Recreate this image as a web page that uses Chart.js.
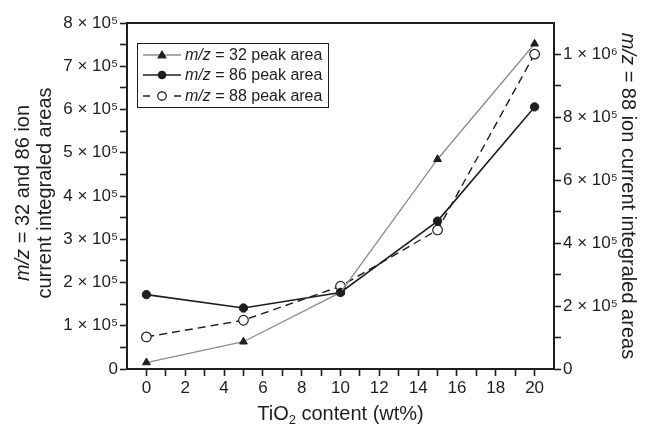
<!DOCTYPE html>
<html><head><meta charset="utf-8">
<script src="https://cdn.jsdelivr.net/npm/chart.js@4.4.0/dist/chart.umd.min.js"></script>
<style>html,body{margin:0;padding:0;background:#fff;}#wrap{width:645px;height:425px;}</style>
</head><body><div id="wrap"><canvas id="c" width="645" height="425"></canvas></div>
<script>
// ---- data ----
const tio2Content = [0, 5, 10, 15, 20];
const mz32PeakArea = [15000, 63000, 177000, 485000, 752000];
const mz86PeakArea = [172000, 141000, 177000, 342000, 606000];
const mz88PeakArea = [102000, 155000, 263000, 442000, 1001000];
const seriesNames = ['m/z = 32 peak area', 'm/z = 86 peak area', 'm/z = 88 peak area'];
const xTickLabels = ['0', '2', '4', '6', '8', '10', '12', '14', '16', '18', '20'];
const leftTickLabels = ['0', '1 × 10⁵', '2 × 10⁵', '3 × 10⁵', '4 × 10⁵', '5 × 10⁵', '6 × 10⁵', '7 × 10⁵', '8 × 10⁵'];
const rightTickLabels = ['0', '2 × 10⁵', '4 × 10⁵', '6 × 10⁵', '8 × 10⁵', '1 × 10⁶'];
const leftTitle = ['m/z', ' = 32 and 86 ion', 'current integraled areas'];
const rightTitle = ['m/z', ' = 88 ion current integraled areas'];
const xTitle = ['TiO', '2', ' content (wt%)'];

const FONT = '"Liberation Sans", Arial, sans-serif';
const INK = '#1e1e1e';

function pts(ys) { return tio2Content.map((x, i) => ({ x: x, y: ys[i] })); }

const decor = {
  id: 'decor',
  afterDraw(chart) {
    const ctx = chart.ctx, a = chart.chartArea;
    ctx.save();
    // top frame line
    ctx.strokeStyle = INK; ctx.lineWidth = 2;
    ctx.beginPath(); ctx.moveTo(a.left - 1, a.top); ctx.lineTo(a.right + 1, a.top); ctx.stroke();
    ctx.fillStyle = INK;
    function seg(parts, x, y, size) {
      // parts: [[text, style]] drawn left to right, centered at x
      let w = 0;
      parts.forEach(p => { ctx.font = p[1] + ' ' + size + 'px ' + FONT; w += ctx.measureText(p[0]).width; });
      let cx = x - w / 2;
      parts.forEach(p => { ctx.font = p[1] + ' ' + size + 'px ' + FONT; ctx.fillText(p[0], cx, y); cx += ctx.measureText(p[0]).width; });
    }
    ctx.textBaseline = 'middle'; ctx.textAlign = 'left';
    const cy = (a.top + a.bottom) / 2 - 3;
    // left title
    ctx.save(); ctx.translate(23, cy); ctx.rotate(-Math.PI / 2);
    seg([[leftTitle[0], 'italic'], [leftTitle[1], 'normal']], 0, 0, 20);
    ctx.restore();
    ctx.save(); ctx.translate(45, cy); ctx.rotate(-Math.PI / 2);
    seg([[leftTitle[2], 'normal']], 0, 0, 20);
    ctx.restore();
    // right title
    ctx.save(); ctx.translate(628, cy + 3); ctx.rotate(Math.PI / 2);
    seg([[rightTitle[0], 'italic'], [rightTitle[1], 'normal']], 0, 0, 20);
    ctx.restore();
    // x title with subscript
    ctx.textBaseline = 'alphabetic';
    ctx.font = '20px ' + FONT; const w1 = ctx.measureText(xTitle[0]).width, w3 = ctx.measureText(xTitle[2]).width;
    ctx.font = '13px ' + FONT; const w2 = ctx.measureText(xTitle[1]).width;
    let xx = (a.left + a.right) / 2 - (w1 + w2 + w3) / 2; const by = 420;
    ctx.font = '20px ' + FONT; ctx.fillText(xTitle[0], xx, by); xx += w1;
    ctx.font = '13px ' + FONT; ctx.fillText(xTitle[1], xx, by + 4); xx += w2;
    ctx.font = '20px ' + FONT; ctx.fillText(xTitle[2], xx, by);
    // legend
    const L = { x: 137, y: 43, w: 191, h: 64 };
    ctx.lineWidth = 1; ctx.strokeStyle = INK;
    ctx.strokeRect(L.x + 0.5, L.y + 0.5, L.w, L.h);
    const rows = [55, 75, 96];
    const ds = chart.data.datasets;
    rows.forEach((ry, i) => {
      const d = ds[i];
      ctx.save();
      ctx.strokeStyle = d.borderColor; ctx.lineWidth = d.borderWidth;
      ctx.setLineDash(d.borderDash || []);
      ctx.beginPath();
      if (i === 2) { ctx.setLineDash([]); ctx.moveTo(143, ry); ctx.lineTo(150, ry); ctx.moveTo(174, ry); ctx.lineTo(181, ry); }
      else { ctx.moveTo(143, ry); ctx.lineTo(181, ry); }
      ctx.stroke(); ctx.restore();
      Chart.helpers.drawPoint(ctx, {
        pointStyle: d.pointStyle, radius: i === 0 ? 3.5 : (i === 1 ? 3.5 : 4), borderWidth: 1.2
      }, 162, ry);
      ctx.save();
      ctx.fillStyle = d.pointBackgroundColor; ctx.strokeStyle = INK; ctx.lineWidth = 1.2;
      ctx.beginPath();
      if (d.pointStyle === 'triangle') {
        const r = 3.8; ctx.moveTo(162, ry - r); ctx.lineTo(162 + r, ry + r * 0.75); ctx.lineTo(162 - r, ry + r * 0.75); ctx.closePath();
      } else { ctx.arc(162, ry, i === 1 ? 3.7 : 4.2, 0, Math.PI * 2); }
      ctx.fill(); ctx.stroke(); ctx.restore();
      ctx.fillStyle = INK; ctx.textBaseline = 'middle';
      const txt = seriesNames[i];
      ctx.font = 'italic 16px ' + FONT; ctx.fillText('m/z', 185, ry + 1);
      const mw = ctx.measureText('m/z').width;
      ctx.font = '16px ' + FONT; ctx.fillText(txt.slice(3), 185 + mw, ry + 1);
    });
    ctx.restore();
  }
};

new Chart(document.getElementById('c'), {
  type: 'line',
  data: {
    datasets: [
      { label: seriesNames[0], data: pts(mz32PeakArea), yAxisID: 'y', borderColor: '#8c8c8c', borderWidth: 1.3,
        pointStyle: 'triangle', pointRadius: 4.5, pointBackgroundColor: INK, pointBorderColor: INK, pointBorderWidth: 1, tension: 0 },
      { label: seriesNames[1], data: pts(mz86PeakArea), yAxisID: 'y', borderColor: INK, borderWidth: 1.6,
        pointStyle: 'circle', pointRadius: 4.2, pointBackgroundColor: INK, pointBorderColor: INK, pointBorderWidth: 1, tension: 0 },
      { label: seriesNames[2], data: pts(mz88PeakArea), yAxisID: 'y2', borderColor: INK, borderWidth: 1.4, borderDash: [8, 5],
        pointStyle: 'circle', pointRadius: 4.8, pointBackgroundColor: '#ffffff', pointBorderColor: INK, pointBorderWidth: 1.2, tension: 0 }
    ]
  },
  options: {
    responsive: false, animation: false, devicePixelRatio: 1,
    layout: { padding: { top: 23, left: 0, right: 0, bottom: 0 } },
    plugins: { legend: { display: false }, tooltip: { enabled: false } },
    scales: {
      x: {
        type: 'linear', position: 'bottom', min: -1, max: 21,
        afterFit: s => { s.height = 56; },
        ticks: { stepSize: 1, autoSkip: false, maxRotation: 0, padding: 2, color: INK,
          font: { size: 17, family: FONT },
          callback: v => (v >= 0 && v <= 20 && v % 2 === 0) ? xTickLabels[v / 2] : '' },
        grid: { drawOnChartArea: false, drawTicks: true, tickLength: 7, tickWidth: 1.6,
          tickColor: c => (c.tick && (c.tick.value < 0 || c.tick.value > 20)) ? 'rgba(0,0,0,0)' : INK },
        border: { display: true, color: INK, width: 2 }
      },
      y: {
        type: 'linear', position: 'left', min: 0, max: 800000,
        afterFit: s => { s.width = 127; },
        ticks: { stepSize: 50000, autoSkip: false, padding: 2, color: INK, font: { size: 17, family: FONT },
          callback: v => (v % 100000 === 0) ? leftTickLabels[v / 100000] : '' },
        grid: { drawOnChartArea: false, drawTicks: true, tickLength: 7, tickWidth: 1.6, tickColor: INK },
        border: { display: true, color: INK, width: 2 }
      },
      y2: {
        type: 'linear', position: 'right', min: 0, max: 1100000,
        afterFit: s => { s.width = 91; },
        ticks: { stepSize: 100000, autoSkip: false, padding: 2, color: INK, font: { size: 17, family: FONT },
          callback: v => (v % 200000 === 0) ? rightTickLabels[v / 200000] : '' },
        grid: { drawOnChartArea: false, drawTicks: true, tickLength: 7, tickWidth: 1.6,
          tickColor: c => (c.tick && c.tick.value > 1050000) ? 'rgba(0,0,0,0)' : INK },
        border: { display: true, color: INK, width: 2 }
      }
    }
  },
  plugins: [decor]
});
</script></body></html>
